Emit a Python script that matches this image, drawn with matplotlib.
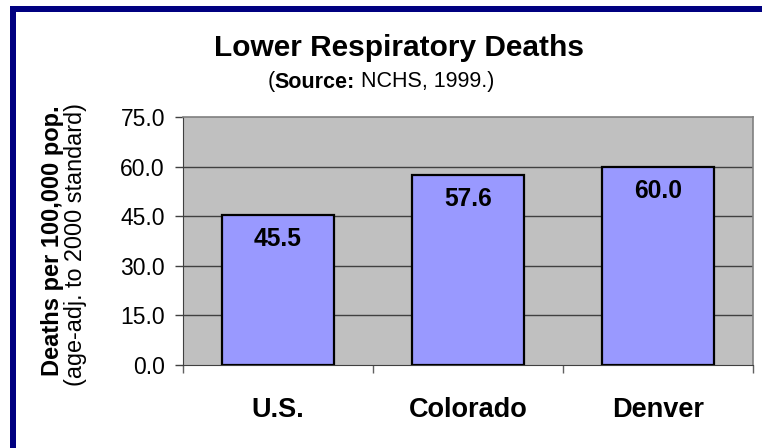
import matplotlib
matplotlib.use("Agg")
import matplotlib.pyplot as plt
from matplotlib.lines import Line2D
import matplotlib.offsetbox as ob

plt.rcParams['font.family'] = ['Liberation Sans', 'DejaVu Sans']

categories = ["U.S.", "Colorado", "Denver"]
values = [45.5, 57.6, 60.0]
value_labels = ["45.5", "57.6", "60.0"]
yticks = [0, 15, 30, 45, 60, 75]
ytick_labels = ["0.0", "15.0", "30.0", "45.0", "60.0", "75.0"]

W, H = 762, 448
fig = plt.figure(figsize=(W / 100, H / 100), dpi=100)
fig.patch.set_facecolor("white")

# navy frame (top and left)
fig.add_artist(Line2D([10 / W, 1.0], [1 - 9 / H, 1 - 9 / H], color="#000080", lw=6 * 0.72,
                      solid_capstyle="butt", transform=fig.transFigure))
fig.add_artist(Line2D([13 / W, 13 / W], [1 - 6 / H, 0.0], color="#000080", lw=6 * 0.72,
                      solid_capstyle="butt", transform=fig.transFigure))

ax = fig.add_axes([183 / W, 1 - 365 / H, (753 - 183) / W, (365 - 117) / H])
ax.set_facecolor("#C0C0C0")
x = list(range(len(categories)))
ax.bar(x, values, width=0.59, color="#9999FF", edgecolor="black", linewidth=1.6, zorder=3)
ax.set_xlim(-0.5, len(categories) - 0.5)
ax.set_ylim(0, 75)
ax.set_yticks(yticks)
ax.set_yticklabels(ytick_labels, fontsize=16.5)
for yv in yticks[1:-1]:
    ax.axhline(yv, color="#404040", lw=1.0, zorder=1)

bounds = [i - 0.5 for i in range(len(categories) + 1)]
ax.set_xticks(bounds)
ax.set_xticklabels([""] * len(bounds))
ax.tick_params(axis="x", direction="out", length=6, width=1, color="#606060")
ax.tick_params(axis="y", direction="out", length=6, width=1, color="#404040", pad=7)
for i, c in enumerate(categories):
    ax.text(i, -13.5, c, ha="center", va="center", fontsize=19.5, fontweight="bold",
            transform=ax.transData)

for sp in ["top", "right"]:
    ax.spines[sp].set_color("#808080")
    ax.spines[sp].set_linewidth(1.2)
ax.spines["left"].set_color("#404040")
ax.spines["bottom"].set_color("#404040")

for i, (v, lab) in enumerate(zip(values, value_labels)):
    ax.text(i, v - 7.5, lab, ha="center", va="center", fontsize=17.7, fontweight="bold", zorder=4)

fig.text(399 / W, 1 - 48 / H, "Lower Respiratory Deaths", ha="center", va="center",
         fontsize=21.5, fontweight="bold")
parts = ob.HPacker(children=[
    ob.TextArea("(", textprops=dict(fontsize=15.5)),
    ob.TextArea("Source:", textprops=dict(fontsize=15.5, fontweight="bold")),
    ob.TextArea(" NCHS, 1999.)", textprops=dict(fontsize=15.5)),
], align="baseline", pad=0, sep=0)
ab = ob.AnchoredOffsetbox(loc="center", child=parts, frameon=False,
                          bbox_to_anchor=(381 / W, 1 - 82 / H), bbox_transform=fig.transFigure,
                          pad=0, borderpad=0)
fig.add_artist(ab)

fig.text(53 / W, 1 - 241 / H, "Deaths per 100,000 pop.", rotation=90, ha="center", va="center",
         fontsize=17, fontweight="bold")
fig.text(76 / W, 1 - 245 / H, "(age-adj. to 2000 standard)", rotation=90, ha="center", va="center",
         fontsize=16.8)

fig.savefig("out.png", dpi=100)
